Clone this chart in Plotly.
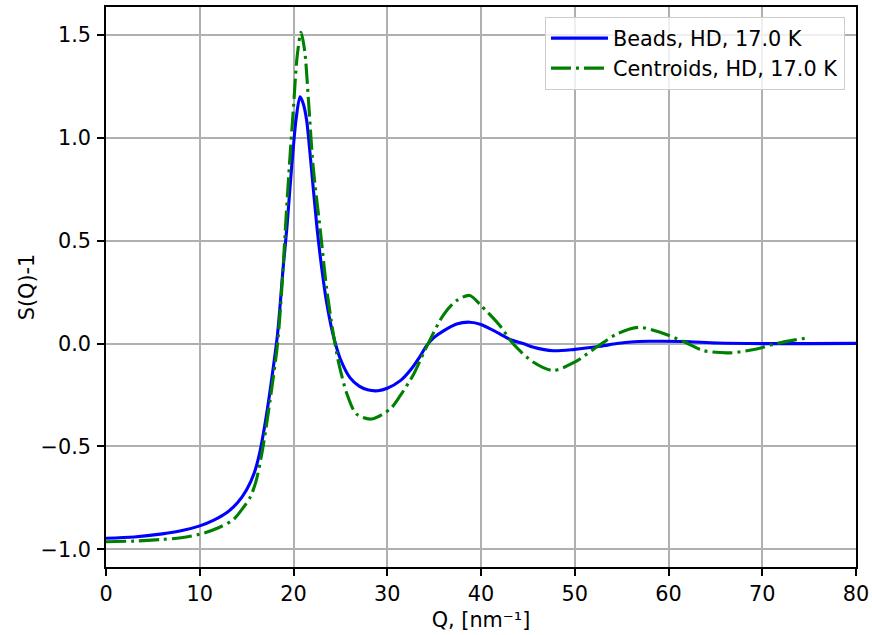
import plotly.graph_objects as go

# Beads, HD, 17.0 K
q_beads = [0, 3, 6, 8, 10, 11.5, 12.9, 14.0, 15.0, 15.8, 16.4, 17.0, 17.5, 18.3,
           18.9, 19.3, 19.8, 20.3, 20.7, 21.05, 21.4, 21.9, 22.5, 23.0, 23.5, 24.2,
           25.0, 26.0, 27.0, 28.0, 29.0, 30.0, 31.4, 32.5, 33.5, 34.2, 35.0, 36.0,
           37.4, 38.8, 40.0, 41.0, 42.0, 43.1, 44.5, 45.6, 47.7, 50.0, 52.7, 54.5,
           56.0, 58.0, 61.6, 65.2, 70, 75, 80]
s_beads = [-0.946, -0.940, -0.925, -0.910, -0.886, -0.858, -0.821, -0.775, -0.710,
           -0.630, -0.530, -0.380, -0.229, 0.047, 0.371, 0.566, 0.858, 1.100, 1.200,
           1.165, 1.086, 0.858, 0.566, 0.371, 0.209, 0.047, -0.075, -0.164, -0.207,
           -0.226, -0.229, -0.217, -0.180, -0.127, -0.062, -0.010, 0.030, 0.062, 0.095,
           0.104, 0.093, 0.071, 0.047, 0.020, 0.0, -0.018, -0.035, -0.028, -0.013,
           0.0, 0.008, 0.011, 0.010, 0.003, 0.0, 0.0, 0.001]

# Centroids, HD, 17.0 K
q_cent = [0, 3, 6, 8, 10, 12, 13.6, 14.6, 15.4, 16.0, 16.6, 17.0, 17.5, 18.3, 18.8,
          19.1, 19.55, 20.0, 20.4, 20.8, 21.2, 21.6, 22.1, 22.9, 23.5, 24.2, 24.8,
          25.7, 26.7, 28.3, 30.3, 31.4, 32.8, 34.0, 36.0, 37.4, 38.8, 40.0, 42.0,
          43.4, 45.6, 47.7, 50.0, 52.5, 54.5, 56.8, 59.1, 61.6, 63.7, 66.6, 69.4,
          71.5, 73.5, 74.9]
s_cent = [-0.963, -0.960, -0.952, -0.944, -0.927, -0.895, -0.855, -0.800, -0.745,
          -0.670, -0.540, -0.430, -0.277, 0.0, 0.30, 0.534, 0.858, 1.15, 1.40,
          1.513, 1.42, 1.18, 0.858, 0.534, 0.28, 0.06, -0.09, -0.245, -0.342,
          -0.367, -0.318, -0.252, -0.150, -0.034, 0.140, 0.209, 0.234, 0.185,
          0.088, 0.0, -0.091, -0.131, -0.090, -0.012, 0.047, 0.079, 0.055, 0.010,
          -0.034, -0.045, -0.026, 0.0, 0.018, 0.028]

x_ticks = [0, 10, 20, 30, 40, 50, 60, 70, 80]
y_ticks = [-1.0, -0.5, 0.0, 0.5, 1.0, 1.5]

FONT = "DejaVu Sans"
FS = 20.8

fig = go.Figure()
fig.add_trace(go.Scatter(x=q_beads, y=s_beads, mode="lines",
                         name="Beads, HD, 17.0 K",
                         line=dict(color="#0000ff", width=3.1, shape="spline", smoothing=0.8)))
fig.add_trace(go.Scatter(x=q_cent, y=s_cent, mode="lines",
                         name="Centroids, HD, 17.0 K",
                         line=dict(color="#008000", width=3.1, shape="spline", smoothing=0.8,
                                   dash="20px,5px,3px,5px")))

axis_common = dict(
    showline=True, linecolor="black", linewidth=1.6, mirror=True,
    ticks="outside", ticklen=7, tickwidth=1.6, tickcolor="black",
    showgrid=True, gridcolor="#b0b0b0", gridwidth=1.6,
    zeroline=False, automargin=False,
    tickfont=dict(family=FONT, size=FS, color="black"),
)

fig.update_xaxes(range=[0, 80], tickvals=x_ticks,
                 ticktext=[str(v) for v in x_ticks],
                 title=dict(text="Q, [nm⁻¹]", font=dict(family=FONT, size=FS, color="black"),
                            standoff=8),
                 **axis_common)
fig.update_yaxes(range=[-1.086, 1.636], tickvals=y_ticks,
                 ticktext=[("\u2212" if v < 0 else "") + f"{abs(v):.1f}" for v in y_ticks],
                 ticklabelstandoff=2,
                 title=dict(text="S(Q)-1", font=dict(family=FONT, size=FS, color="black"),
                            standoff=0),
                 **axis_common)

fig.update_layout(
    width=872, height=635,
    margin=dict(l=106, r=16, t=7, b=68),
    paper_bgcolor="white", plot_bgcolor="white",
    font=dict(family=FONT, size=FS, color="black"),
    showlegend=True,
    legend=dict(x=0.9853, y=0.982, xanchor="right", yanchor="top",
                bgcolor="rgba(255,255,255,0.8)", bordercolor="#cccccc", borderwidth=1,
                font=dict(family=FONT, size=FS, color="black"),
                tracegroupgap=0, itemwidth=57),
)

fig.write_html("out.html")
